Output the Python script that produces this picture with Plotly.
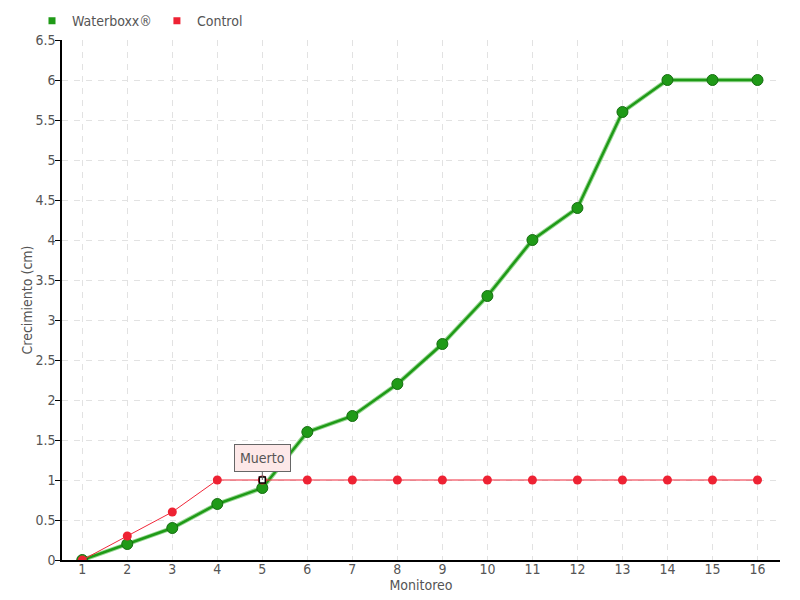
import plotly.graph_objects as go

monitoreo = list(range(1, 17))
waterboxx = [0, 0.2, 0.4, 0.7, 0.9, 1.6, 1.8, 2.2, 2.7, 3.3, 4.0, 4.4, 5.6, 6.0, 6.0, 6.0]
control = [0, 0.3, 0.6, 1, 1, 1, 1, 1, 1, 1, 1, 1, 1, 1, 1, 1]
y_ticks = [0, 0.5, 1, 1.5, 2, 2.5, 3, 3.5, 4, 4.5, 5, 5.5, 6, 6.5]
y_labels = ["0", "0.5", "1", "1.5", "2", "2.5", "3", "3.5", "4", "4.5", "5", "5.5", "6", "6.5"]
note_x, note_y, note_text = 5, 1, "Muerto"

FONT = "DejaVu Sans Condensed, DejaVu Sans"
GRAY = "#555555"
GREEN = "#1f9a17"
RED = "#ee2233"

fig = go.Figure()
# light halo under the green line
fig.add_trace(go.Scatter(x=monitoreo, y=waterboxx, mode="lines",
                         line=dict(color="#9ad895", width=4.5), showlegend=False, hoverinfo="skip"))
fig.add_trace(go.Scatter(x=monitoreo, y=waterboxx, mode="lines+markers", name="Waterboxx®",
                         line=dict(color=GREEN, width=2.5),
                         marker=dict(size=11, color=GREEN, line=dict(color="#176e12", width=1)),
                         showlegend=False))
fig.add_trace(go.Scatter(x=monitoreo, y=control, mode="lines+markers", name="Control",
                         line=dict(color="#f0283a", width=1),
                         marker=dict(size=9, color=RED, line=dict(width=0)),
                         showlegend=False))
fig.add_trace(go.Scatter(x=[note_x], y=[note_y], mode="markers", showlegend=False,
                         marker=dict(symbol="square", size=6, color="white",
                                     line=dict(color="black", width=1.5))))
# legend entries (square markers only)
fig.add_trace(go.Scatter(x=[None], y=[None], mode="markers", name="Waterboxx®",
                         marker=dict(symbol="square", size=7, color=GREEN)))
fig.add_trace(go.Scatter(x=[None], y=[None], mode="markers", name="Control",
                         marker=dict(symbol="square", size=7, color=RED)))

fig.add_annotation(x=note_x, y=note_y, text=note_text, showarrow=True, arrowhead=0,
                   arrowcolor="#666666", arrowwidth=1, ax=0, ay=-8,
                   bgcolor="#fde8e8", bordercolor="#666666", borderwidth=1, borderpad=5,
                   font=dict(family=FONT, size=14, color=GRAY), yanchor="bottom")

fig.update_layout(
    width=800, height=600,
    margin=dict(l=54, r=28, t=32, b=48, autoexpand=False),
    plot_bgcolor="white", paper_bgcolor="white",
    font=dict(family=FONT, size=14, color=GRAY),
    legend=dict(orientation="h", xref="container", yref="container",
                x=0.03, y=0.978, xanchor="left", yanchor="middle",
                font=dict(family=FONT, size=14, color=GRAY), itemwidth=30,
                tracegroupgap=0, bgcolor="rgba(0,0,0,0)"),
    showlegend=True,
)
fig.update_xaxes(range=[0.55, 16.5], tickmode="array", tickvals=monitoreo,
                 showline=True, linecolor="black", linewidth=1.5,
                 showgrid=True, gridcolor="#e2e2e2", griddash="6px,6px", gridwidth=1,
                 ticks="", zeroline=False, automargin=False, ticklabelstandoff=-5,
                 title=dict(text="Monitoreo", standoff=0, font=dict(size=14, color=GRAY)),
                 tickfont=dict(size=14, color=GRAY))
fig.update_yaxes(range=[0, 6.5], tickmode="array", tickvals=y_ticks, ticktext=y_labels,
                 showline=True, linecolor="black", linewidth=1.5,
                 showgrid=True, gridcolor="#e2e2e2", griddash="6px,6px", gridwidth=1,
                 ticks="outside", ticklen=5, tickcolor="black", zeroline=False, automargin=False,
                 ticklabelstandoff=-3,
                 title=dict(text="Crecimiento (cm)", standoff=0, font=dict(size=14, color=GRAY)),
                 tickfont=dict(size=14, color=GRAY))

fig.write_html("out.html")
